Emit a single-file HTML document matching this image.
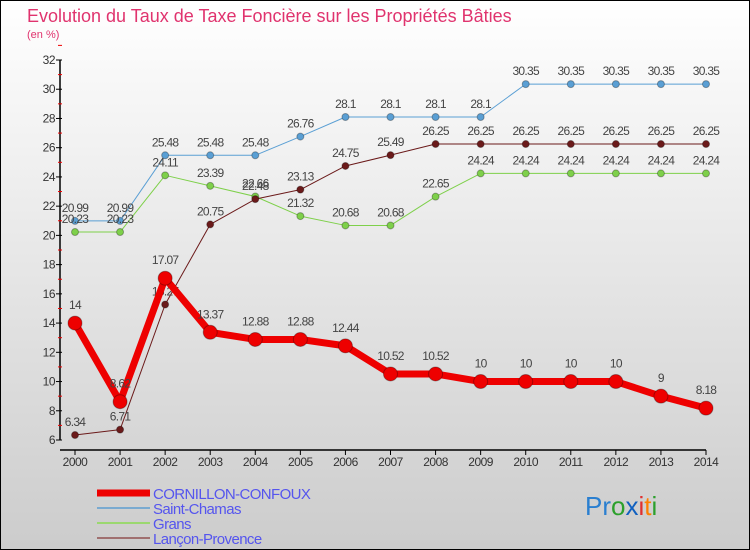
<!DOCTYPE html>
<html><head><meta charset="utf-8"><style>
body{margin:0;width:750px;height:550px;overflow:hidden;font-family:"Liberation Sans",sans-serif}
#c{position:absolute;left:0;top:0;width:748px;height:548px;border:1px solid #000;background:linear-gradient(#ffffff,#cccccc)}
</style></head><body>
<div id="c">
<svg id="s" width="750" height="550" style="position:absolute;left:-1px;top:-1px"></svg>
</div>
<script>
const years=["2000","2001","2002","2003","2004","2005","2006","2007","2008","2009","2010","2011","2012","2013","2014"];
const yTicks=[6,8,10,12,14,16,18,20,22,24,26,28,30,32];
const cornillon=[14,8.62,17.07,13.37,12.88,12.88,12.44,10.52,10.52,10,10,10,10,9,8.18];
const saintChamas=[20.99,20.99,25.48,25.48,25.48,26.76,28.1,28.1,28.1,28.1,30.35,30.35,30.35,30.35,30.35];
const grans=[20.23,20.23,24.11,23.39,22.66,21.32,20.68,20.68,22.65,24.24,24.24,24.24,24.24,24.24,24.24];
const lancon=[6.34,6.71,15.27,20.75,22.48,23.13,24.75,25.49,26.25,26.25,26.25,26.25,26.25,26.25,26.25];
const ns="http://www.w3.org/2000/svg",svg=document.getElementById('s');
const X=i=>75+i*(706-75)/14, Y=v=>440-(v-6)*(380/26);
function el(t,a,p){const e=document.createElementNS(ns,t);for(const k in a)e.setAttribute(k,a[k]);(p||svg).appendChild(e);return e;}
function tx(x,y,s,a){const e=el('text',Object.assign({x:x,y:y},a));e.textContent=s;return e;}
let t=tx(27,22,"Evolution du Taux de Taxe Foncière sur les Propriétés Bâties",{fill:"#e0336e","font-size":18});

t=tx(27,38,"(en %)",{fill:"#e0336e","font-size":11});

let ax=el('path',{d:`M60 ${Y(32)}V${Y(6)}M60 450H706`,stroke:"#000","stroke-width":1.5,fill:"none"});

yTicks.forEach(v=>{el('line',{x1:56,x2:62,y1:Y(v),y2:Y(v),stroke:"#000"});
el('line',{x1:58,x2:62,y1:Y(v+1),y2:Y(v+1),stroke:"#e00"});
const l=tx(55,Y(v)+4,v,{"text-anchor":"end","font-size":12,fill:"#333","letter-spacing":"-0.5"});
});
years.forEach((y,i)=>{el('line',{x1:X(i),x2:X(i),y1:450,y2:455,stroke:"#000"});
const l=tx(X(i),466,y,{"text-anchor":"middle","font-size":12,fill:"#333","letter-spacing":"-0.5"});
});
function series(d,col,w,r,name,off){const g=el('g',{});
el('polyline',{points:d.map((v,i)=>X(i)+','+Y(v)).join(' '),fill:"none",stroke:col,"stroke-width":w,"stroke-linejoin":"round"},g);
d.forEach((v,i)=>{const c=el('circle',{cx:X(i),cy:Y(v),r:r,fill:col,stroke:"rgba(0,0,0,0.3)"},g);
tx(X(i),Y(v)-off,String(v),{"text-anchor":"middle","font-size":12,fill:"#444","letter-spacing":"-0.7"},g);});}
series(saintChamas,"#5a9fd4",1,3.5,"series-saint-chamas",9);
series(grans,"#7ed04a",1,3.5,"series-grans",9);
series(lancon,"#6b1a1a",1,3.5,"series-lancon",9);
series(cornillon,"#ee0000",7,7,"series-cornillon",14);
const leg=[["CORNILLON-CONFOUX","#ee0000",7],["Saint-Chamas","#7aaad0",2],["Grans","#9bd870",2],["Lançon-Provence","#a07070",2]];
leg.forEach((l,i)=>{const g=el('g',{});
const y=493+i*15;el('line',{x1:97,x2:150,y1:y,y2:y,stroke:l[1],"stroke-width":l[2]},g);
tx(153,y+6,l[0],{"font-size":15,fill:"#5555ee","letter-spacing":"-0.6"},g);});
const lg=el('text',{x:585,y:515,"font-size":26});
[["Pr","#2a7fd0"],["o","#2ca02c"],["x","#1060c0"],["i","#e03030"],["t","#ff8000"],["i","#2ca02c"]].forEach(p=>{const s=el('tspan',{fill:p[1]},lg);s.textContent=p[0];});
</script>
</body></html>
